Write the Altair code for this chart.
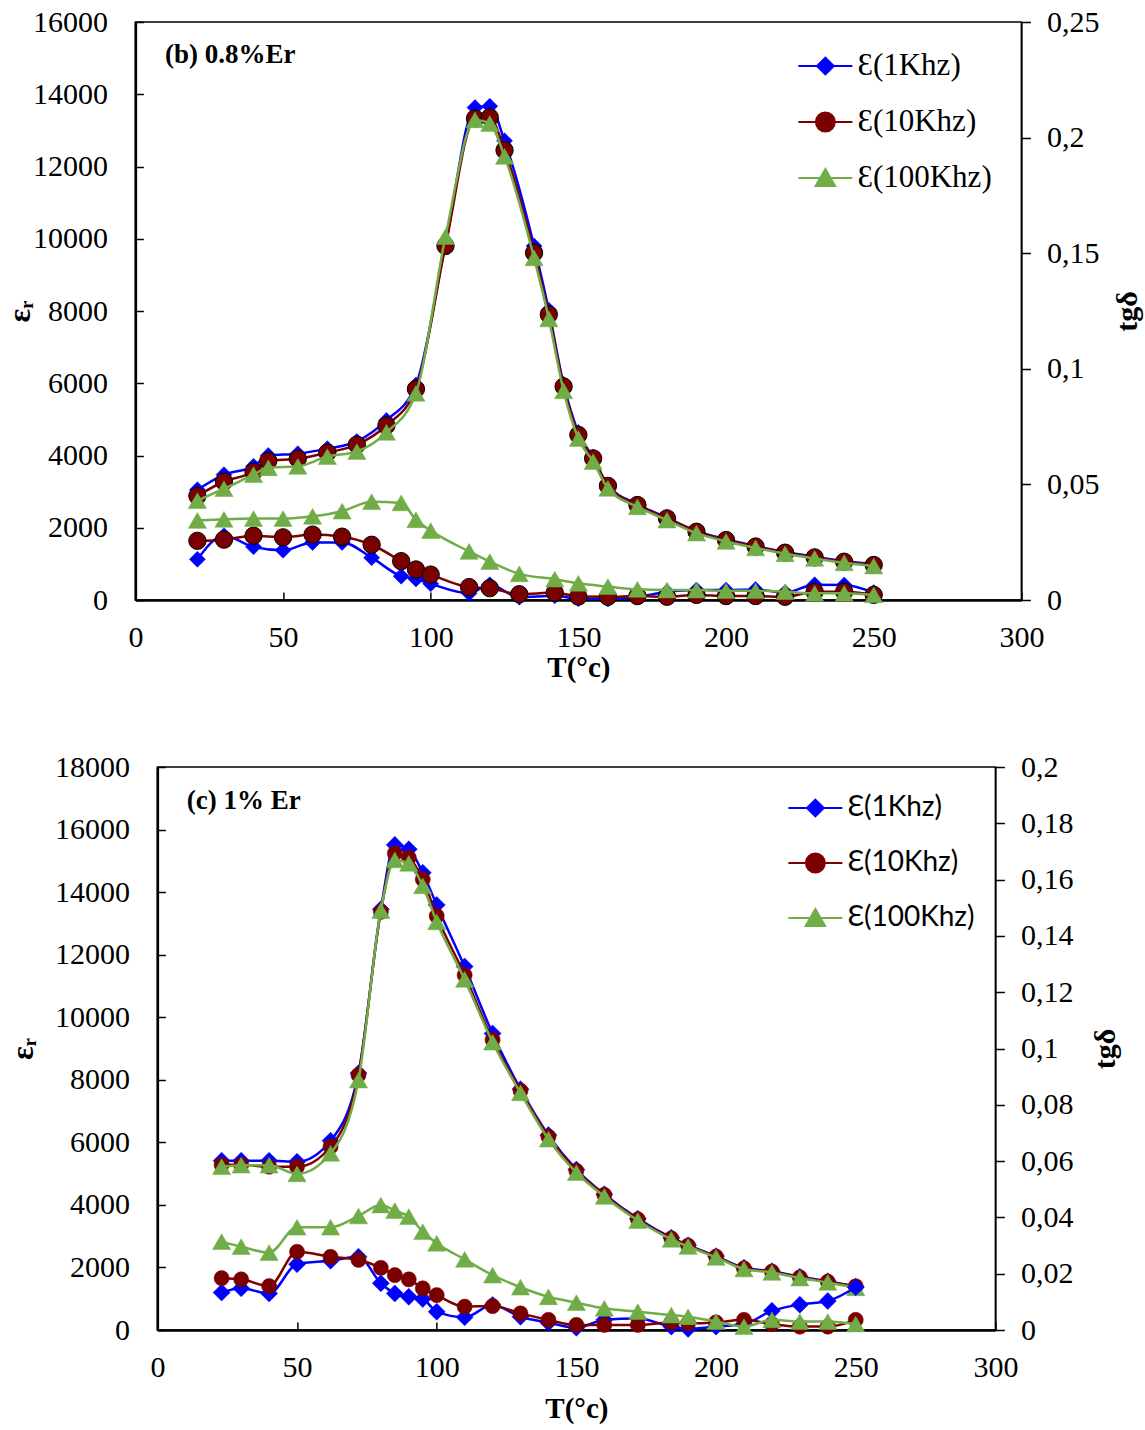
import altair as alt
import pandas as pd

# ---------------- data ----------------
FREQS = ["Ɛ(1Khz)", "Ɛ(10Khz)", "Ɛ(100Khz)"]

# (b) 0.8% Er
B_T_EPS = [21, 30, 40, 45, 55, 65, 75, 85, 95, 105, 115, 120, 125, 135, 140, 145,
           150, 155, 160, 170, 180, 190, 200, 210, 220, 230, 240, 250]
B_EPS_1K = [3050, 3470, 3700, 4000, 4050, 4190, 4390, 4970, 5950, 9850, 13630, 13670,
            12710, 9800, 8020, 5970, 4640, 3950, 3180, 2650, 2280, 1910, 1680, 1490,
            1330, 1200, 1080, 990]
B_EPS_10K = [2880, 3280, 3550, 3850, 3910, 4080, 4300, 4830, 5840, 9800, 13330, 13360,
             12450, 9610, 7900, 5910, 4570, 3920, 3160, 2630, 2260, 1890, 1660, 1480,
             1310, 1180, 1060, 970]
B_EPS_100K = [2750, 3080, 3470, 3660, 3700, 3970, 4110, 4640, 5720, 10060, 13290, 13190,
              12280, 9470, 7780, 5790, 4470, 3830, 3090, 2580, 2210, 1850, 1620, 1440,
              1280, 1150, 1030, 940]

B_T_TAN = [21, 30, 40, 50, 60, 70, 80, 90, 95, 100, 113, 120, 130, 142, 150, 160, 170,
           180, 190, 200, 210, 220, 230, 240, 250]
B_TAN_1K = [0.0176, 0.0278, 0.0230, 0.0215, 0.0249, 0.0249, 0.0183, 0.0103, 0.0091,
            0.0070, 0.0029, 0.0066, 0.0012, 0.0018, 0.0005, 0.0004, 0.0014, 0.0035,
            0.0043, 0.0043, 0.0045, 0.0032, 0.0066, 0.0065, 0.0032]
B_TAN_10K = [0.0256, 0.0261, 0.0278, 0.0271, 0.0283, 0.0274, 0.0239, 0.0168, 0.0132,
             0.0110, 0.0056, 0.0051, 0.0025, 0.0032, 0.0015, 0.0014, 0.0017, 0.0014,
             0.0022, 0.0017, 0.0017, 0.0014, 0.0036, 0.0036, 0.0022]
B_TAN_100K = [0.0344, 0.0349, 0.0352, 0.0352, 0.0362, 0.0384, 0.0425, 0.0420, 0.0347,
              0.0300, 0.0210, 0.0166, 0.0113, 0.0090, 0.0072, 0.0058, 0.0046, 0.0043,
              0.0043, 0.0040, 0.0040, 0.0036, 0.0029, 0.0029, 0.0022]

# (c) 1% Er
C_T = [23, 30, 40, 50, 62, 72, 80, 85, 90, 95, 100, 110, 120, 130, 140, 150, 160, 172,
       184, 190, 200, 210, 220, 230, 240, 250]
C_EPS_1K = [5410, 5410, 5410, 5380, 6050, 8210, 13450, 15510, 15370, 14620, 13590, 11620,
            9480, 7700, 6230, 5130, 4340, 3560, 2950, 2710, 2360, 1990, 1880, 1700, 1560,
            1380]
C_EPS_10K = [5280, 5280, 5220, 5220, 5860, 8150, 13370, 15240, 15100, 14410, 13240, 11350,
             9280, 7650, 6180, 5090, 4320, 3540, 2930, 2700, 2345, 1970, 1865, 1685, 1545,
             1400]
C_EPS_100K = [5220, 5270, 5270, 4990, 5650, 7990, 13410, 15030, 14920, 14200, 13050, 11210,
              9200, 7580, 6100, 5030, 4270, 3500, 2900, 2670, 2320, 1950, 1840, 1660, 1520,
              1350]
C_TAN_1K = [0.0133, 0.0148, 0.0130, 0.0234, 0.0246, 0.0260, 0.0166, 0.0130, 0.0118,
            0.0110, 0.0065, 0.0045, 0.0089, 0.0047, 0.0026, 0.0008, 0.0036, 0.0041,
            0.0012, 0.0004, 0.0012, 0.0021, 0.0068, 0.0090, 0.0103, 0.0152]
C_TAN_10K = [0.0184, 0.0180, 0.0156, 0.0278, 0.0260, 0.0249, 0.0221, 0.0195, 0.0180,
             0.0148, 0.0124, 0.0083, 0.0085, 0.0059, 0.0036, 0.0018, 0.0018, 0.0018,
             0.0027, 0.0024, 0.0027, 0.0036, 0.0021, 0.0012, 0.0012, 0.0036]
C_TAN_100K = [0.0314, 0.0296, 0.0275, 0.0365, 0.0365, 0.0405, 0.0444, 0.0424, 0.0403,
              0.0349, 0.0308, 0.0251, 0.0195, 0.0152, 0.0118, 0.0097, 0.0077, 0.0065,
              0.0053, 0.0047, 0.0030, 0.0012, 0.0036, 0.0030, 0.0030, 0.0021]

B_LABEL = "(b) 0.8%Er"
C_LABEL = "(c) 1% Er"
B_LABEL_POS = (10, 15100)
C_LABEL_POS = (10.5, 16900)

# ---------------- styling ----------------
LINE_COLORS = ["#0000FF", "#800000", "#70AD47"]
FILL_COLORS = ["#0000FF", "#7A0000", "#70AD47"]
SHAPES = ["diamond", "circle", "triangle-up"]
# legend glyphs: a line segment with the marker in its middle
LEGEND_PATHS = [
    "M-1,0H1M0,-0.31L0.31,0L0,0.31L-0.31,0Z",
    "M-0.35,0A0.35,0.35 0 1,0 0.35,0A0.35,0.35 0 1,0 -0.35,0Z M-1,0H1",
    "M0,-0.33L0.36,0.3L-0.36,0.3Z M-1,0H1",
]
SERIF = "Liberation Serif"


def long_frame(t, series, col):
    rows = []
    for name, vals in zip(FREQS, series):
        for ti, v in zip(t, vals):
            rows.append({"T": ti, col: v, "freq": name})
    return pd.DataFrame(rows)


def panel(df_eps, df_tan, eps_max, eps_step, tan_max, tan_step, width, height,
          label, label_pos, marker_sizes, circle_outline, legend_font, legend_size,
          legend_xy, left_title_pad, right_title_pad, x_title_pad):
    x_axis = alt.Axis(
        values=list(range(0, 301, 50)), title="T(°c)", labelFont=SERIF,
        labelFontSize=30, labelColor="black", labelPadding=22, labelFlush=False,
        titleFont=SERIF, titleFontSize=29, titleFontWeight="bold", titleColor="black",
        titlePadding=x_title_pad, ticks=False, domainColor="black", domainWidth=2.5,
        grid=True, gridColor="black", gridWidth=1.5,
        gridDash=[8, height - 8], gridDashOffset=8,
    )
    x_enc = alt.X("T:Q", scale=alt.Scale(domain=[0, 300], nice=False), axis=x_axis)

    eps_axis = alt.Axis(
        values=list(range(0, eps_max + 1, eps_step)), format="d", orient="left",
        title="εᵣ", labelFont=SERIF, labelFontSize=30, labelColor="black",
        labelPadding=28, labelFlush=False, titleFont=SERIF, titleFontSize=32,
        titleFontWeight="bold", titleColor="black", titlePadding=left_title_pad,
        ticks=False, domainColor="black", domainWidth=2.5,
        grid=True, gridColor="black", gridWidth=1.5, gridDash=[8, 3000],
    )
    n_tan = int(round(tan_max / tan_step))
    tan_axis = alt.Axis(
        values=[round(i * tan_step, 4) for i in range(n_tan + 1)], orient="right",
        labelExpr="replace(format(datum.value, '~g'), '.', ',')",
        title="tgδ", titleAngle=270, labelFont=SERIF, labelFontSize=30,
        labelColor="black", labelPadding=16, labelFlush=False, titleFont=SERIF,
        titleFontSize=30, titleFontWeight="bold", titleColor="black",
        titlePadding=right_title_pad,
        ticks=True, tickSize=9, tickColor="black", tickWidth=1.5,
        domainColor="black", domainWidth=1.5, grid=False,
    )
    eps_scale = alt.Scale(domain=[0, eps_max], nice=False)
    tan_scale = alt.Scale(domain=[0, tan_max], nice=False)

    def series(df, col, scale, axis):
        layers = []
        for i, f in enumerate(FREQS):
            base = alt.Chart(df).transform_filter(alt.datum.freq == f)
            y_enc = alt.Y(f"{col}:Q", scale=scale, axis=axis)
            line = base.mark_line(
                color=LINE_COLORS[i], strokeWidth=2.5, interpolate="monotone"
            ).encode(x=x_enc, y=y_enc)
            stroke = "black" if (i == 1 and circle_outline) else FILL_COLORS[i]
            pts = base.mark_point(
                shape=SHAPES[i], filled=True, fill=FILL_COLORS[i], stroke=stroke,
                strokeWidth=1 if stroke == "black" else 0.5, opacity=1,
                size=marker_sizes[i],
            ).encode(x=x_enc, y=y_enc)
            layers += [line, pts]
        return layers

    leg = alt.Legend(
        title=None, orient="none", legendX=legend_xy[0], legendY=legend_xy[1],
        labelFont=legend_font, labelFontSize=legend_size, labelColor="black",
        symbolSize=2916, symbolStrokeWidth=2, rowPadding=13, labelOffset=4,
        padding=0, labelLimit=0,
    )
    legend_layer = alt.Chart(df_eps).mark_point(filled=True, opacity=1).encode(
        fill=alt.Fill("freq:N", scale=alt.Scale(domain=FREQS, range=FILL_COLORS), legend=leg),
        stroke=alt.Stroke("freq:N", scale=alt.Scale(domain=FREQS, range=LINE_COLORS), legend=leg),
        shape=alt.Shape("freq:N", scale=alt.Scale(domain=FREQS, range=LEGEND_PATHS), legend=leg),
    ).transform_filter("false")

    lab_df = pd.DataFrame({"T": [label_pos[0]], "eps": [label_pos[1]], "txt": [label]})
    text = alt.Chart(lab_df).mark_text(
        align="left", baseline="middle", font=SERIF, fontSize=27, fontWeight="bold",
        color="black",
    ).encode(x=x_enc, y=alt.Y("eps:Q", scale=eps_scale, axis=eps_axis), text="txt:N")

    eps_group = alt.layer(*series(df_eps, "eps", eps_scale, eps_axis), text, legend_layer)
    tan_group = alt.layer(*series(df_tan, "tan", tan_scale, tan_axis))
    return alt.layer(eps_group, tan_group).resolve_scale(y="independent").properties(
        width=width, height=height
    )


b_eps = long_frame(B_T_EPS, [B_EPS_1K, B_EPS_10K, B_EPS_100K], "eps")
b_tan = long_frame(B_T_TAN, [B_TAN_1K, B_TAN_10K, B_TAN_100K], "tan")
c_eps = long_frame(C_T, [C_EPS_1K, C_EPS_10K, C_EPS_100K], "eps")
c_tan = long_frame(C_T, [C_TAN_1K, C_TAN_10K, C_TAN_100K], "tan")

top = panel(b_eps, b_tan, 16000, 2000, 0.25, 0.05, 886, 578, B_LABEL, B_LABEL_POS,
            [256, 300, 330], True, SERIF, 31, (662, 16), -4, 44, 1)
bottom = panel(c_eps, c_tan, 18000, 2000, 0.2, 0.02, 838, 563, C_LABEL, C_LABEL_POS,
               [290, 230, 330], False, "Lato", 28, (630, 13), 15, 48, 12)

chart = alt.vconcat(top, bottom, spacing=68, center=True).resolve_scale(
    fill="independent", stroke="independent", shape="independent"
).resolve_legend(
    fill="independent", stroke="independent", shape="independent"
).properties(
    padding={"left": 2, "top": 6, "right": 1, "bottom": 0}, background="white"
).configure_view(stroke="black", strokeWidth=1.5)

chart.save("out.html", embed_options={"renderer": "svg", "actions": False})
